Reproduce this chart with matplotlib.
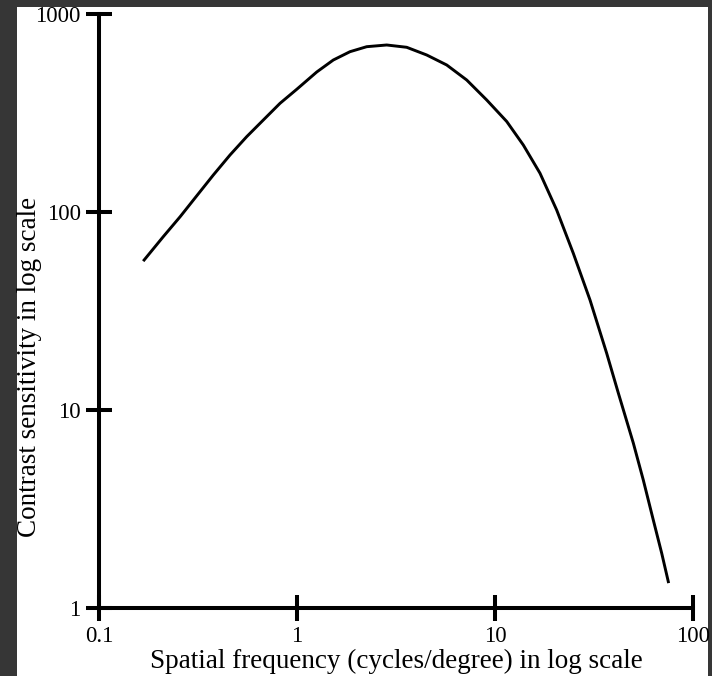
import numpy as np
import matplotlib
matplotlib.use("Agg")
from matplotlib import pyplot as plt
from matplotlib.patches import Rectangle

# values (cycles/degree, sensitivity)
freq = [0.169, 0.211, 0.257, 0.311, 0.378, 0.459, 0.557, 0.676, 0.821, 0.997,
        1.258, 1.525, 1.852, 2.249, 2.838, 3.581, 4.520, 5.704, 7.196,
        9.081, 11.46, 13.90, 16.88, 20.49, 24.86, 30.19, 36.65, 41.95,
        49.95, 56.10, 63.03, 69.50, 75.04]
sens = [57.2, 75.0, 94.7, 120.4, 153.8, 194.1, 240.1, 291.5, 354.0, 416.6,
        509.4, 585.6, 645.1, 683.7, 697.4, 679.0, 620.8, 552.7, 464.2,
        367.9, 286.5, 217.9, 156.9, 102.3, 61.85, 35.94, 19.34, 12.19,
        6.81, 4.43, 2.78, 1.89, 1.358]

xticks = [0.1, 1, 10, 100]
xtick_labels = ["0.1", "1", "10", "100"]
yticks = [1, 10, 100, 1000]
ytick_labels = ["1", "10", "100", "1000"]

plt.rcParams["font.family"] = ["Liberation Serif", "DejaVu Serif"]

fig = plt.figure(figsize=(7.12, 6.76), dpi=100)
fig.patch.set_facecolor("#363636")
# white sheet on the dark background (kept behind the axes)
fig.patches.append(Rectangle((17 / 712, 0), (708 - 17) / 712, 1 - 7 / 676,
                             transform=fig.transFigure, facecolor="white",
                             edgecolor="none", zorder=-10))

ax = fig.add_axes([99 / 712, 1 - 608 / 676, (693 - 99) / 712, (608 - 14) / 676])
ax.patch.set_alpha(0)
ax.plot(freq, sens, color="black", lw=2.1, solid_joinstyle="round")

ax.set_xscale("log")
ax.set_yscale("log")
ax.set_xlim(0.1, 100)
ax.set_ylim(1, 1000)
ax.set_xticks(xticks, xtick_labels)
ax.set_yticks(yticks, ytick_labels)
ax.minorticks_off()

for s in ["top", "right"]:
    ax.spines[s].set_visible(False)
for s in ["left", "bottom"]:
    ax.spines[s].set_linewidth(2.9)
ax.tick_params(direction="inout", length=18.5, width=2.9, labelsize=16.5, pad=4)

ax.set_xlabel("Spatial frequency (cycles/degree) in log scale", fontsize=19.5)
ax.set_ylabel("Contrast sensitivity in log scale", fontsize=19.5)
ax.xaxis.set_label_coords(0.5, -0.068)
ax.yaxis.set_label_coords(-0.096, 0.406)

fig.savefig("out.png", dpi=100, facecolor=fig.get_facecolor())
